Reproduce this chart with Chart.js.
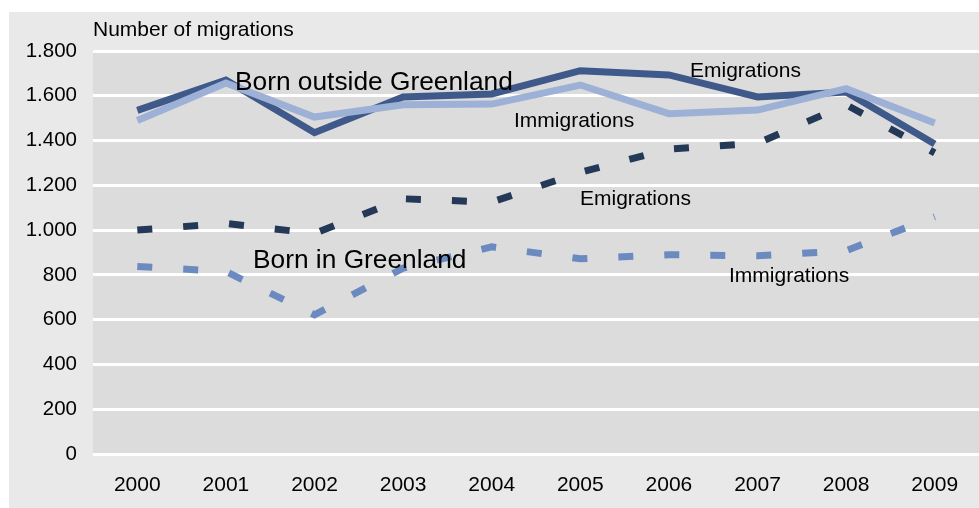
<!DOCTYPE html>
<html><head><meta charset="utf-8">
<script src="https://cdn.jsdelivr.net/npm/chart.js@4.4.1/dist/chart.umd.min.js"></script>
<style>html,body{margin:0;padding:0;background:#fff;}#wrap{width:979px;height:508px;}</style>
</head><body><div id="wrap"><canvas id="c"></canvas></div>
<script>
const years = ['2000','2001','2002','2003','2004','2005','2006','2007','2008','2009'];
const outsideEmigrations = [1535, 1670, 1435, 1595, 1608, 1712, 1693, 1595, 1617, 1385];
const outsideImmigrations = [1490, 1657, 1505, 1560, 1563, 1648, 1520, 1536, 1632, 1478];
const greenlandEmigrations = [1000, 1030, 985, 1140, 1125, 1258, 1362, 1388, 1560, 1345];
const greenlandImmigrations = [838, 815, 622, 830, 925, 872, 890, 885, 908, 1060];
const yTicks = [0, 200, 400, 600, 800, 1000, 1200, 1400, 1600, 1800];

const FONT = "'Liberation Sans', Arial, sans-serif";
const annotations = [
  {text: 'Number of migrations', x: 93, y: 36, size: 21},
  {text: 'Born outside Greenland', x: 235, y: 90, size: 26.3},
  {text: 'Emigrations', x: 690, y: 77, size: 21},
  {text: 'Immigrations', x: 514, y: 127, size: 21},
  {text: 'Emigrations', x: 580, y: 205, size: 21},
  {text: 'Born in Greenland', x: 253, y: 268, size: 26.3},
  {text: 'Immigrations', x: 729, y: 282, size: 21}
];

const bgPlugin = {
  id: 'bg',
  beforeDraw(chart) {
    const ctx = chart.ctx, a = chart.chartArea;
    ctx.save();
    ctx.fillStyle = '#ffffff';
    ctx.fillRect(0, 0, chart.width, chart.height);
    ctx.fillStyle = '#e9e9e9';
    ctx.fillRect(9, 12, chart.width - 9, chart.height - 12);
    ctx.fillStyle = '#dcdcdc';
    ctx.fillRect(a.left, a.top, a.right - a.left, a.bottom - a.top);
    ctx.restore();
  },
  afterDatasetsDraw(chart) {
    const ctx = chart.ctx;
    ctx.save();
    ctx.fillStyle = '#000';
    ctx.textBaseline = 'alphabetic';
    ctx.textAlign = 'left';
    annotations.forEach(t => {
      ctx.font = t.size + 'px ' + FONT;
      ctx.fillText(t.text, t.x, t.y);
    });
    ctx.restore();
  }
};

new Chart(document.getElementById('c'), {
  type: 'line',
  data: {
    labels: years,
    datasets: [
      {label: 'Born in Greenland Immigrations', data: greenlandImmigrations, borderColor: '#6b8bc0', borderWidth: 7, borderDash: [15, 31], borderCapStyle: 'butt', pointRadius: 0, tension: 0},
      {label: 'Born in Greenland Emigrations', data: greenlandEmigrations, borderColor: '#243858', borderWidth: 7, borderDash: [15, 31], borderCapStyle: 'butt', pointRadius: 0, tension: 0},
      {label: 'Born outside Greenland Immigrations', data: outsideImmigrations, borderColor: '#9db0d6', borderWidth: 7, pointRadius: 0, tension: 0},
      {label: 'Born outside Greenland Emigrations', data: outsideEmigrations, borderColor: '#3f5a8a', borderWidth: 7, pointRadius: 0, tension: 0}
    ]
  },
  options: {
    responsive: true,
    maintainAspectRatio: false,
    animation: false,
    layout: {padding: {top: 51, right: 0, left: 0, bottom: 0}},
    plugins: {legend: {display: false}, tooltip: {enabled: false}},
    scales: {
      x: {
        offset: true,
        grid: {display: false, drawTicks: false},
        border: {display: false},
        ticks: {color: '#000', font: {family: FONT, size: 21}, padding: 19, maxRotation: 0},
        afterFit(s) { s.height = 54; }
      },
      y: {
        min: 0, max: 1800,
        afterBuildTicks(s) { s.ticks = yTicks.map(v => ({value: v})); },
        grid: {color: '#ffffff', lineWidth: 3, drawTicks: false},
        border: {display: false},
        ticks: {color: '#000', font: {family: FONT, size: 20.5}, padding: 16,
          callback: v => v.toLocaleString('de-DE')},
        afterFit(s) { s.width = 93; }
      }
    }
  },
  plugins: [bgPlugin]
});
</script></body></html>
